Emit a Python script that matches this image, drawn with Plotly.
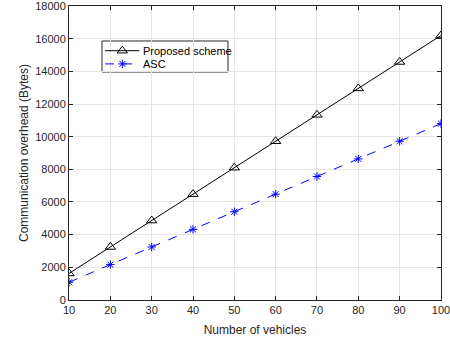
import plotly.graph_objects as go

vehicles = [10, 20, 30, 40, 50, 60, 70, 80, 90, 100]
proposed = [1620, 3240, 4860, 6480, 8100, 9720, 11340, 12960, 14580, 16200]
asc = [1080, 2160, 3240, 4320, 5400, 6480, 7560, 8640, 9720, 10800]
y_ticks = [0, 2000, 4000, 6000, 8000, 10000, 12000, 14000, 16000, 18000]
series_names = ["Proposed scheme", "ASC"]

FONT = "Liberation Sans, Arial, sans-serif"
BLUE = "#0000FF"

fig = go.Figure()
fig.add_trace(go.Scatter(
    x=vehicles, y=proposed, name=series_names[0], mode="lines+markers",
    line=dict(color="black", width=1),
    marker=dict(symbol="triangle-up-open", size=9, color="black", line=dict(width=1)),
    showlegend=False,
))
fig.add_trace(go.Scatter(
    x=vehicles, y=asc, name=series_names[1], mode="lines+markers",
    line=dict(color=BLUE, width=1, dash="dash"),
    marker=dict(symbol="asterisk-open", size=7, color=BLUE, line=dict(width=1, color=BLUE)),
    showlegend=False,
))

# Custom legend (MATLAB style)
bx0, bx1, by0, by1 = 0.0887, 0.4274, 0.7755, 0.881
fig.add_shape(type="rect", xref="paper", yref="paper", x0=bx0, x1=bx1, y0=by0, y1=by1,
              fillcolor="white", line=dict(color="#262626", width=1), layer="below")
rows = [0.848, 0.803]
lx0, lx1, lxm = 0.0968, 0.1890, 0.1433
fig.add_trace(go.Scatter(
    x=[lx0, lx1], y=[rows[0], rows[0]], mode="lines",
    line=dict(color="black", width=1), xaxis="x2", yaxis="y2",
    showlegend=False, hoverinfo="skip",
))
fig.add_trace(go.Scatter(
    x=[lxm], y=[rows[0]], mode="markers",
    marker=dict(symbol="triangle-up-open", size=9, color="black", line=dict(width=1)),
    xaxis="x2", yaxis="y2", showlegend=False, hoverinfo="skip",
))
fig.add_trace(go.Scatter(
    x=[lx0, lx1], y=[rows[1], rows[1]], mode="lines",
    line=dict(color=BLUE, width=1, dash="dash"), xaxis="x2", yaxis="y2",
    showlegend=False, hoverinfo="skip",
))
fig.add_trace(go.Scatter(
    x=[lxm], y=[rows[1]], mode="markers",
    marker=dict(symbol="asterisk-open", size=7, color=BLUE, line=dict(width=1, color=BLUE)),
    xaxis="x2", yaxis="y2", showlegend=False, hoverinfo="skip",
))
for name, ry in zip(series_names, rows):
    fig.add_annotation(
        x=0.1935, y=ry, xref="paper", yref="paper", text=name, showarrow=False,
        xanchor="left", yanchor="middle", font=dict(family=FONT, size=11, color="black"),
    )

axis_common = dict(
    showgrid=True, gridcolor="#E5E5E5", gridwidth=1,
    showline=True, linecolor="#262626", linewidth=1, mirror="ticks",
    ticks="inside", ticklen=4, tickcolor="#262626",
    tickfont=dict(family=FONT, size=11, color="#262626"),
    zeroline=False, ticklabeloverflow="allow", automargin=False,
)

fig.update_layout(
    width=450, height=340,
    margin=dict(l=69, r=9, t=6, b=40),
    paper_bgcolor="white", plot_bgcolor="white",
    font=dict(family=FONT, size=11, color="#262626"),
    xaxis=dict(range=[9.99, 100.01], tickvals=vehicles, ticktext=[str(v) for v in vehicles],
               title=dict(text="Number of vehicles", font=dict(size=12), standoff=10), **axis_common),
    yaxis=dict(range=[-10, 18010], tickvals=y_ticks, ticktext=[str(v) for v in y_ticks],
               title=dict(text="Communication overhead (Bytes)", font=dict(size=12), standoff=4), **axis_common),
    xaxis2=dict(overlaying="x", anchor="y2", range=[0, 1], visible=False, fixedrange=True),
    yaxis2=dict(overlaying="y", anchor="x2", range=[0, 1], visible=False, fixedrange=True),
    showlegend=False,
)

fig.write_html("out.html")
